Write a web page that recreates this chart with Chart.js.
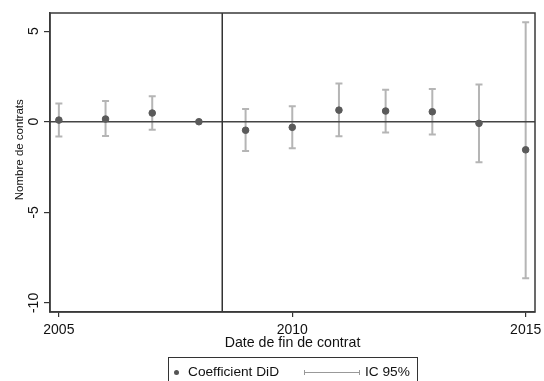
<!DOCTYPE html>
<html>
<head>
<meta charset="utf-8">
<script src="https://cdn.jsdelivr.net/npm/chart.js@4.4.1/dist/chart.umd.min.js"></script>
<style>
  body { margin: 0; background: #fff; font-family: "Liberation Sans", Arial, sans-serif; }
  #wrap { position: relative; width: 544px; height: 381px; overflow: hidden; }
  #legend { position: absolute; left: 168px; top: 357px; width: 250px; height: 34px;
            border: 1px solid #333; box-sizing: border-box; font-size: 13.7px; color: #111; }
  #legend .dot { position: absolute; left: 5px; top: 12px; width: 5px; height: 5px; border-radius: 50%; background: #555; }
  #legend .lbl { position: absolute; top: 6px; line-height: 16px; white-space: nowrap; }
  #legend .ci { position: absolute; left: 135px; top: 14px; width: 56px; height: 1px; background: #999; }
  #legend .ci:before, #legend .ci:after { content: ""; position: absolute; top: -2px; width: 1px; height: 5px; background: #999; }
  #legend .ci:before { left: 0; }
  #legend .ci:after { right: 0; }
</style>
</head>
<body>
<div id="wrap">
  <canvas id="myChart" width="544" height="381"></canvas>
  <div id="legend">
    <span class="dot"></span><span class="lbl" style="left:19px">Coefficient DiD</span>
    <span class="ci"></span><span class="lbl" style="left:196px">IC 95%</span>
  </div>
</div>
<script>
const years = [2005, 2006, 2007, 2008, 2009, 2010, 2011, 2012, 2013, 2014, 2015];
const coef = [0.09, 0.15, 0.48, 0, -0.47, -0.31, 0.64, 0.59, 0.55, -0.09, -1.55];
const ciLow = [-0.82, -0.79, -0.44, null, -1.61, -1.46, -0.80, -0.60, -0.71, -2.23, -8.64];
const ciHigh = [1.01, 1.15, 1.41, null, 0.70, 0.86, 2.11, 1.76, 1.81, 2.05, 5.49];
const xTicks = [2005, 2010, 2015];
const yTicks = [-10, -5, 0, 5];
const treatmentYear = 2008.5;

const FONT = "'Liberation Sans', Arial, sans-serif";

// error bars, zero line and the treatment line, all through the chart scales
const extras = {
  id: "extras",
  beforeDatasetsDraw(chart) {
    const { ctx, chartArea: a, scales: { x, y } } = chart;
    ctx.save();
    ctx.strokeStyle = "#b5b5b5";
    ctx.lineWidth = 2;
    years.forEach((yr, i) => {
      if (ciLow[i] == null) return;
      const px = x.getPixelForValue(yr);
      const lo = y.getPixelForValue(ciLow[i]);
      const hi = y.getPixelForValue(ciHigh[i]);
      ctx.beginPath();
      ctx.moveTo(px, lo); ctx.lineTo(px, hi);
      ctx.moveTo(px - 3.5, lo); ctx.lineTo(px + 3.5, lo);
      ctx.moveTo(px - 3.5, hi); ctx.lineTo(px + 3.5, hi);
      ctx.stroke();
    });
    ctx.strokeStyle = "#444";
    ctx.lineWidth = 1.5;
    const y0 = y.getPixelForValue(0);
    ctx.beginPath();
    ctx.moveTo(a.left, y0); ctx.lineTo(a.right, y0);
    ctx.stroke();
    ctx.restore();
  },
  afterDraw(chart) {
    const { ctx, chartArea: a, scales: { x } } = chart;
    ctx.save();
    ctx.strokeStyle = "#333";
    ctx.lineWidth = 1.5;
    const xv = x.getPixelForValue(treatmentYear);
    ctx.beginPath();
    ctx.moveTo(xv, a.top); ctx.lineTo(xv, a.bottom);
    ctx.stroke();
    ctx.strokeStyle = "#3a3a3a";
    ctx.strokeRect(a.left, a.top, a.right - a.left, a.bottom - a.top);
    ctx.restore();
  }
};

new Chart(document.getElementById("myChart"), {
  type: "scatter",
  data: {
    datasets: [
      {
        label: "Coefficient DiD",
        data: years.map((yr, i) => ({ x: yr, y: coef[i] })),
        backgroundColor: "#5a5a5a",
        borderColor: "#5a5a5a",
        pointRadius: 3.3,
      },
    ],
  },
  options: {
    responsive: false,
    animation: false,
    layout: { padding: { top: 13, right: 9, bottom: 24, left: 0 } },
    plugins: { legend: { display: false }, tooltip: { enabled: false } },
    scales: {
      x: {
        type: "linear",
        min: 2004.81,
        max: 2015.2,
        afterBuildTicks: (s) => { s.ticks = xTicks.map((v) => ({ value: v })); },
        afterFit: (s) => { s.height = 45; s.paddingLeft = 0; s.paddingRight = 0; },
        grid: { drawOnChartArea: false, tickLength: 5, tickColor: "#333", lineWidth: 1.2 },
        border: { color: "#3a3a3a", width: 1.5 },
        ticks: { color: "#111", font: { family: FONT, size: 14 }, padding: 5, callback: (v) => String(v) },
        title: { display: true, text: "Date de fin de contrat", color: "#111",
                 font: { family: FONT, size: 14.2 }, padding: { top: 0, bottom: 5 } },
      },
      y: {
        min: -10.5,
        max: 6,
        afterBuildTicks: (s) => { s.ticks = yTicks.map((v) => ({ value: v })); },
        afterFit: (s) => { s.width = 50; s.paddingTop = 0; s.paddingBottom = 0; },
        grid: { drawOnChartArea: false, tickLength: 6, tickColor: "#333", lineWidth: 1.2 },
        border: { color: "#3a3a3a", width: 1.5 },
        ticks: { color: "#111", font: { family: FONT, size: 14 }, padding: 0, crossAlign: "center",
                 minRotation: 90, maxRotation: 90, callback: (v) => String(v) },
        // leading spaces push the title up to where the original sits
        title: { display: true, text: "\u00a0".repeat(8) + "Nombre de contrats", color: "#111",
                 font: { family: FONT, size: 11.5 }, padding: { top: 13, bottom: 0 } },
      },
    },
  },
  plugins: [extras],
});
</script>
</body>
</html>
